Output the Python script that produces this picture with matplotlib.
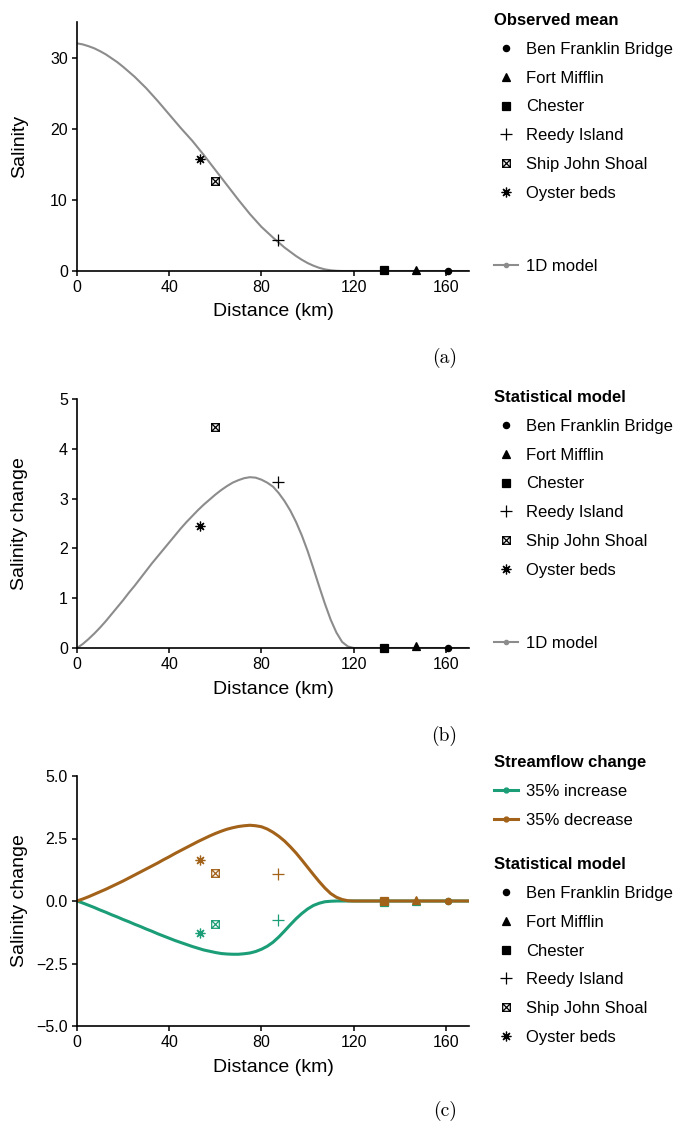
import matplotlib
matplotlib.use('Agg')
import matplotlib.pyplot as plt
from matplotlib.lines import Line2D
from matplotlib.path import Path
from matplotlib.ticker import FuncFormatter

plt.rcParams['font.family'] = ['Liberation Sans', 'DejaVu Sans']

# stations (upstream -> downstream)
station_names = ['Ben Franklin Bridge', 'Fort Mifflin', 'Chester',
                 'Reedy Island', 'Ship John Shoal', 'Oyster beds']
station_km = [161, 147, 133, 87, 60, 53.5]
obs_mean = [0.05, 0.2, 0.2, 4.4, 12.6, 15.8]
stat_change = [0.0, 0.04, 0.01, 3.33, 4.44, 2.44]
stat_increase = [0.0, 0.02, -0.02, -0.77, -0.91, -1.28]
stat_decrease = [0.0, 0.05, 0.0, 1.07, 1.12, 1.63]

# 1D model curves, read every 2.5 km up to 120 km, flat zero after
model_km = [i * 2.5 for i in range(49)] + [170]
model_mean = [32.0, 31.85, 31.6, 31.3, 30.9, 30.45, 29.9, 29.35, 28.7, 28.0,
              27.3, 26.5, 25.7, 24.8, 23.9, 22.95, 22.0, 21.05, 20.1, 19.2,
              18.3, 17.3, 16.3, 15.25, 14.2, 13.15, 12.1, 11.05, 10.0, 9.0,
              8.0, 7.1, 6.2, 5.45, 4.7, 4.0, 3.3, 2.7, 2.1, 1.58,
              1.12, 0.75, 0.45, 0.23, 0.1, 0.03, 0, 0, 0, 0]
model_change = [0.0, 0.08, 0.18, 0.29, 0.41, 0.54, 0.68, 0.82, 0.96, 1.11,
                1.25, 1.40, 1.55, 1.70, 1.84, 1.98, 2.12, 2.26, 2.40, 2.53,
                2.65, 2.77, 2.88, 2.98, 3.08, 3.17, 3.25, 3.32, 3.37, 3.41,
                3.43, 3.42, 3.38, 3.32, 3.24, 3.11, 2.95, 2.76, 2.53, 2.26,
                1.95, 1.60, 1.24, 0.89, 0.57, 0.31, 0.12, 0.03, 0, 0]
model_increase = [0.0, -0.08, -0.17, -0.26, -0.36, -0.45, -0.55, -0.64, -0.74, -0.83,
                  -0.93, -1.02, -1.12, -1.21, -1.31, -1.40, -1.49, -1.58, -1.66, -1.74,
                  -1.82, -1.89, -1.96, -2.01, -2.06, -2.10, -2.12, -2.13, -2.13, -2.11,
                  -2.08, -2.02, -1.93, -1.81, -1.65, -1.44, -1.20, -0.95, -0.71, -0.50,
                  -0.32, -0.18, -0.09, -0.03, -0.01, 0, 0, 0, 0, 0]
model_decrease = [0.0, 0.08, 0.17, 0.27, 0.37, 0.47, 0.58, 0.69, 0.80, 0.92,
                  1.04, 1.16, 1.28, 1.40, 1.52, 1.65, 1.77, 1.90, 2.02, 2.14,
                  2.26, 2.38, 2.49, 2.60, 2.70, 2.79, 2.87, 2.93, 2.98, 3.01,
                  3.03, 3.01, 2.97, 2.88, 2.75, 2.59, 2.40, 2.17, 1.92, 1.64,
                  1.35, 1.06, 0.78, 0.52, 0.30, 0.15, 0.06, 0.01, 0, 0]

GRAY = '#8c8c8c'
GREEN = '#1b9e77'
BROWN = '#a3621a'

# square with a cross (ggplot shape 7)
boxx = Path([(-1, -1), (1, -1), (1, 1), (-1, 1), (-1, -1),
             (-1, -1), (1, 1), (-1, 1), (1, -1)],
            [Path.MOVETO, Path.LINETO, Path.LINETO, Path.LINETO, Path.CLOSEPOLY,
             Path.MOVETO, Path.LINETO, Path.MOVETO, Path.LINETO])
markers = [('o', 4.5, True), ('^', 5.5, True), ('s', 5.5, True),
           ('+', 8.0, False), (boxx, 5.5, False), ((8, 2, 0), 7.0, False)]

W, H = 673, 1125
fig = plt.figure(figsize=(W / 100, H / 100), dpi=100)


def px_axes(top, bottom):
    return fig.add_axes([77 / W, 1 - bottom / H, 392 / W, (bottom - top) / H])


def style(ax, ylim, yticks, ylabel):
    ax.set_xlim(0, 170)
    ax.set_ylim(*ylim)
    ax.set_xticks([0, 40, 80, 120, 160])
    ax.set_yticks(yticks)
    for s in ['top', 'right']:
        ax.spines[s].set_visible(False)
    for s in ['left', 'bottom']:
        ax.spines[s].set_linewidth(1.2)
    ax.tick_params(length=3.6, width=1.1, labelsize=11.5, pad=3)
    ax.set_xlabel('Distance (km)', fontsize=14, labelpad=6)
    ax.set_ylabel(ylabel, fontsize=14)
    ax.yaxis.set_label_coords(-0.125, 0.5)


def draw_stations(ax, values, color):
    for km, v, (m, ms, filled) in zip(station_km, values, markers):
        ax.plot(km, v, ls='none', marker=m, ms=ms, color=color,
                mfc=color if filled else 'none', mew=0.9, clip_on=False, zorder=4)


def station_handles():
    return [Line2D([], [], ls='none', marker=m, ms=ms, color='black',
                   mfc='black' if filled else 'none', mew=0.9)
            for m, ms, filled in markers]


def add_legend(handles, labels, title, top):
    leg = fig.legend(handles, labels, title=title, loc='upper left',
                     bbox_to_anchor=(494 / W, 1 - top / H), bbox_transform=fig.transFigure,
                     frameon=False, borderpad=0, borderaxespad=0, fontsize=12,
                     labelspacing=0.83, handlelength=1.45, handletextpad=0.45,
                     alignment='left', title_fontproperties={'weight': 'bold', 'size': 12})
    return leg


def panel_label(txt, y):
    fig.text(457 / W, 1 - y / H, txt, ha='right', va='center', fontsize=14, family='cmr10')


# (a)
ax1 = px_axes(22, 271)
ax1.plot(model_km, model_mean, color=GRAY, lw=1.5, zorder=2)
draw_stations(ax1, obs_mean, 'black')
style(ax1, (0, 35), [0, 10, 20, 30], 'Salinity')
add_legend(station_handles(), station_names, 'Observed mean', 13)
add_legend([Line2D([], [], color=GRAY, lw=1.5, marker='o', ms=3)], ['1D model'], None, 259)
panel_label('(a)', 358)

# (b)
ax2 = px_axes(399, 648)
ax2.plot(model_km, model_change, color=GRAY, lw=1.5, zorder=2)
draw_stations(ax2, stat_change, 'black')
style(ax2, (0, 5), [0, 1, 2, 3, 4, 5], 'Salinity change')
add_legend(station_handles(), station_names, 'Statistical model', 390)
add_legend([Line2D([], [], color=GRAY, lw=1.5, marker='o', ms=3)], ['1D model'], None, 636)
panel_label('(b)', 736)

# (c)
ax3 = px_axes(776, 1026)
ax3.plot(model_km, model_increase, color=GREEN, lw=2.2, zorder=2)
ax3.plot(model_km, model_decrease, color=BROWN, lw=2.2, zorder=2)
draw_stations(ax3, stat_increase, GREEN)
draw_stations(ax3, stat_decrease, BROWN)
style(ax3, (-5, 5), [-5, -2.5, 0, 2.5, 5], 'Salinity change')
ax3.yaxis.set_major_formatter(FuncFormatter(lambda v, p: ('%.1f' % v).replace('-', '\u2212')))
add_legend([Line2D([], [], color=GREEN, lw=2.2, marker='o', ms=3.5),
            Line2D([], [], color=BROWN, lw=2.2, marker='o', ms=3.5)],
           ['35% increase', '35% decrease'], 'Streamflow change', 755)
add_legend(station_handles(), station_names, 'Statistical model', 857)
panel_label('(c)', 1111)

fig.savefig('out.png', dpi=100)
